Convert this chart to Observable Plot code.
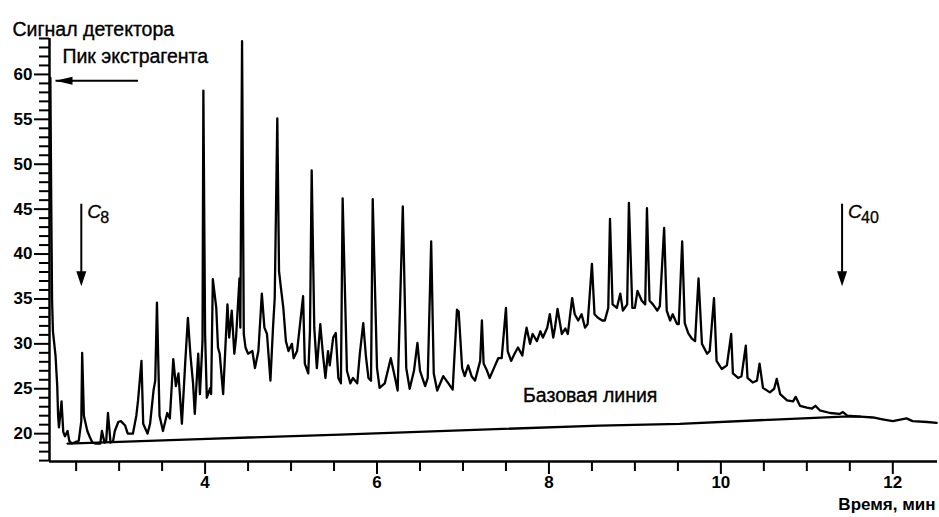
<!DOCTYPE html>
<html>
<head>
<meta charset="utf-8">
<script src="https://cdn.jsdelivr.net/npm/d3@7"></script>
<script src="https://cdn.jsdelivr.net/npm/@observablehq/plot@0.6"></script>
<style>
  html, body { margin: 0; padding: 0; background: #fff; }
  #chart { width: 939px; height: 517px; }
</style>
</head>
<body>
<div id="chart"></div>
<script>
// Chromatogram trace (time, min; detector signal)
const time = [2.20,2.21,2.22,2.23,2.26,2.28,2.29,2.30,2.33,2.35,
2.37,2.40,2.42,2.45,2.50,2.53,2.56,2.57,2.59,2.63,
2.66,2.69,2.73,2.78,2.80,2.83,2.85,2.87,2.90,2.93,
2.95,2.99,3.02,3.07,3.10,3.16,3.20,3.22,3.26,3.28,
3.33,3.36,3.40,3.42,3.44,3.47,3.51,3.56,3.59,3.63,
3.66,3.69,3.73,3.77,3.80,3.83,3.86,3.88,3.92,3.94,
3.97,3.98,4.00,4.02,4.06,4.07,4.09,4.13,4.15,4.17,
4.21,4.26,4.28,4.31,4.34,4.36,4.40,4.41,4.43,4.45,
4.47,4.50,4.55,4.58,4.62,4.66,4.69,4.72,4.76,4.79,
4.81,4.84,4.86,4.88,4.91,4.94,4.97,5.01,5.03,5.07,
5.10,5.14,5.16,5.20,5.22,5.24,5.27,5.30,5.34,5.37,
5.40,5.43,5.45,5.49,5.52,5.55,5.58,5.60,5.65,5.69,
5.72,5.77,5.80,5.84,5.87,5.90,5.93,5.95,6.00,6.03,
6.09,6.16,6.21,6.24,6.30,6.34,6.38,6.43,6.47,6.50,
6.56,6.59,6.63,6.66,6.70,6.77,6.83,6.88,6.93,6.95,
6.99,7.02,7.06,7.10,7.14,7.20,7.22,7.24,7.28,7.31,
7.36,7.41,7.45,7.50,7.52,7.56,7.60,7.64,7.69,7.72,
7.74,7.78,7.81,7.86,7.90,7.93,7.98,8.01,8.05,8.07,
8.10,8.15,8.19,8.22,8.27,8.30,8.34,8.38,8.42,8.45,
8.50,8.53,8.57,8.62,8.65,8.69,8.71,8.74,8.79,8.83,
8.86,8.91,8.93,8.97,9.00,9.03,9.08,9.12,9.14,9.17,
9.21,9.26,9.29,9.34,9.37,9.41,9.44,9.49,9.51,9.55,
9.58,9.62,9.66,9.70,9.74,9.78,9.84,9.87,9.92,9.95,
10.01,10.07,10.12,10.14,10.20,10.24,10.29,10.31,10.37,10.42,
10.45,10.49,10.57,10.62,10.65,10.69,10.77,10.84,10.87,10.92,
11.00,11.06,11.10,11.15,11.27,11.38,11.42,11.47,11.62,11.77,
11.88,12.00,12.16,12.23,12.40,12.51];

const signal = [59.6,45.9,34.8,31.4,28.7,25.3,22.0,20.7,23.6,20.2,
19.7,20.3,19.2,18.9,19.1,19.2,21.4,29.0,22.0,20.3,
19.6,19.0,18.9,18.9,20.3,19.0,19.2,22.3,19.0,19.2,
20.3,21.3,21.4,20.9,20.0,20.0,22.0,23.7,28.1,21.1,
20.0,21.1,24.8,25.9,34.6,22.0,20.3,22.3,21.7,28.3,
25.3,26.7,21.1,28.1,32.9,28.7,25.6,22.2,28.9,24.4,
30.3,58.2,31.1,24.0,25.1,24.4,37.2,34.0,29.6,28.9,
24.4,34.4,30.7,33.7,28.9,30.7,37.3,31.8,63.7,31.1,
29.6,28.9,29.2,27.3,29.2,35.6,31.8,31.1,25.9,31.8,
35.1,55.1,38.1,36.4,34.0,30.3,29.2,30.0,28.4,29.2,
31.8,35.3,27.8,26.7,31.4,49.3,31.8,27.3,32.2,28.9,
26.2,29.2,27.6,30.7,31.2,26.2,25.6,46.2,27.0,25.6,
26.2,25.6,28.9,32.3,28.7,26.2,25.9,46.1,27.3,25.1,
25.6,28.4,26.2,24.8,45.3,27.3,25.0,27.0,30.1,27.0,
25.3,26.2,41.4,26.7,24.8,26.4,25.6,24.9,33.8,33.6,
27.3,26.4,27.6,26.4,25.9,28.1,32.6,27.8,27.0,26.2,
27.3,28.4,28.4,34.0,29.2,28.1,28.9,29.6,28.7,30.7,
31.8,30.0,31.1,30.3,31.4,30.7,31.8,33.3,30.7,31.8,
33.9,31.1,31.7,31.1,35.1,33.3,32.6,33.3,31.8,32.2,
38.9,33.3,32.9,32.6,32.6,34.0,43.9,34.4,34.0,35.6,
33.7,34.4,45.7,34.0,34.0,35.9,34.8,34.4,45.1,34.8,
34.4,33.7,34.2,42.9,33.7,32.6,33.3,32.2,32.2,41.4,
32.3,31.2,30.6,30.3,37.3,30.0,28.9,29.2,35.1,28.1,
27.2,27.6,31.1,26.7,26.2,26.4,29.8,26.2,25.7,25.9,
27.8,25.1,24.6,25.0,26.1,24.4,23.7,23.6,24.1,23.1,
22.9,22.8,23.1,22.6,22.3,22.2,22.4,22.0,21.9,21.8,
21.6,21.4,21.7,21.4,21.3,21.2];

// Baseline
const baseTime = [2.40, 3.94, 5.57, 8.59, 9.52, 10.69, 11.42, 11.62];
const baseSignal = [18.9, 19.4, 19.9, 20.9, 21.1, 21.6, 21.9, 21.9];

// Axes
const xDomain = [2.19, 12.52];
const yDomain = [16.9, 64];
const xMajorTicks = [4, 6, 8, 10, 12];
const xMinorTicks = [2.5, 3, 3.5, 4.5, 5, 5.5, 6.5, 7, 7.5, 8.5, 9, 9.5, 10.5, 11, 11.5];
const yMajorTicks = [20, 25, 30, 35, 40, 45, 50, 55, 60];
const yMinorTicks = d3.range(17, 65).filter(v => v % 5 !== 0);

// Annotations
const arrowLabels = ["Пик экстрагента"];
const solventArrow = {x1: 3.22, x2: 2.26, y: 59.3};
const markerSubs = ["8", "40"];
const markerTimes = [2.56, 11.41];
const markerTop = 45.6, markerTip = 36.4;
const baselineLabel = "Базовая линия";
const yTitle = "Сигнал детектора";
const xTitle = "Время, мин";

const trace = time.map((t, i) => ({t, v: signal[i]}));
const base = baseTime.map((t, i) => ({t, v: baseSignal[i]}));

const headDown = { draw(ctx) { ctx.moveTo(0, 0); ctx.lineTo(-5, -15); ctx.lineTo(5, -15); ctx.closePath(); } };
const headLeft = { draw(ctx) { ctx.moveTo(0, 0); ctx.lineTo(-4, -17); ctx.lineTo(4, -17); ctx.closePath(); } };

const font = "'Liberation Sans', Arial, sans-serif";
const labelStyle = {fontSize: 19.5, stroke: "black", strokeWidth: 0.35, fill: "black"};

const chart = Plot.plot({
  width: 939,
  height: 517,
  marginTop: 38,
  marginBottom: 56,
  marginLeft: 49,
  marginRight: 2,
  style: {fontFamily: font, fontSize: "17px", color: "black", background: "white", overflow: "visible"},
  x: {domain: xDomain, axis: null, label: null},
  y: {domain: yDomain, axis: null, label: null},
  marks: [
    Plot.axisX({ticks: xMinorTicks, tickSize: 10, tickFormat: () => "", strokeWidth: 2, label: null}),
    Plot.axisX({ticks: xMajorTicks, tickSize: 13, tickPadding: 1, strokeWidth: 2, label: null, fontWeight: "bold", fontSize: 17}),
    Plot.axisY({ticks: yMinorTicks, tickSize: 10, tickFormat: () => "", strokeWidth: 2, label: null}),
    Plot.axisY({ticks: yMajorTicks, tickSize: 15, tickPadding: 2, strokeWidth: 2, label: null, fontWeight: "bold", fontSize: 17}),
    Plot.ruleX([xDomain[0]], {strokeWidth: 2.5}),
    Plot.ruleY([yDomain[0]], {strokeWidth: 2.5}),
    Plot.line(base, {x: "t", y: "v", stroke: "black", strokeWidth: 2.3}),
    Plot.line(trace, {x: "t", y: "v", stroke: "black", strokeWidth: 2.3, strokeLinejoin: "round"}),
    // solvent arrow
    Plot.link([solventArrow], {x1: "x1", x2: "x2", y1: "y", y2: "y", stroke: "black", strokeWidth: 2}),
    Plot.dot([solventArrow], {x: "x2", y: "y", symbol: headLeft, rotate: 90, fill: "black", stroke: "none"}),
    Plot.text(arrowLabels, {x: 2.34, y: 62.0, text: d => d, textAnchor: "start", ...labelStyle}),
    // C8 / C40 arrows
    Plot.link(markerTimes, {x1: d => d, x2: d => d, y1: markerTop, y2: markerTip + 1.5, stroke: "black", strokeWidth: 2}),
    Plot.dot(markerTimes, {x: d => d, y: markerTip, symbol: headDown, fill: "black", stroke: "none"}),
    Plot.text(markerTimes, {x: d => d, y: 44.7, text: () => "C", dx: 6, textAnchor: "start", fontStyle: "italic", fontSize: 19, fill: "black", stroke: "black", strokeWidth: 0.3}),
    Plot.text(markerTimes, {x: d => d, y: 44.7, text: (d, i) => markerSubs[i], dx: 19, dy: 6, textAnchor: "start", fontSize: 16, fill: "black", stroke: "black", strokeWidth: 0.3}),
    // baseline label
    Plot.text([baselineLabel], {x: 8.48, y: 24.2, text: d => d, ...labelStyle}),
    // titles
    Plot.text([yTitle], {frameAnchor: "top-left", dx: -37, dy: -16, textAnchor: "start", text: d => d, ...labelStyle}),
    Plot.text([xTitle], {frameAnchor: "bottom-right", dx: -2, dy: 48, textAnchor: "end", text: d => d, fontSize: 17, fontWeight: "bold"})
  ]
});

document.getElementById("chart").appendChild(chart);
</script>
</body>
</html>
